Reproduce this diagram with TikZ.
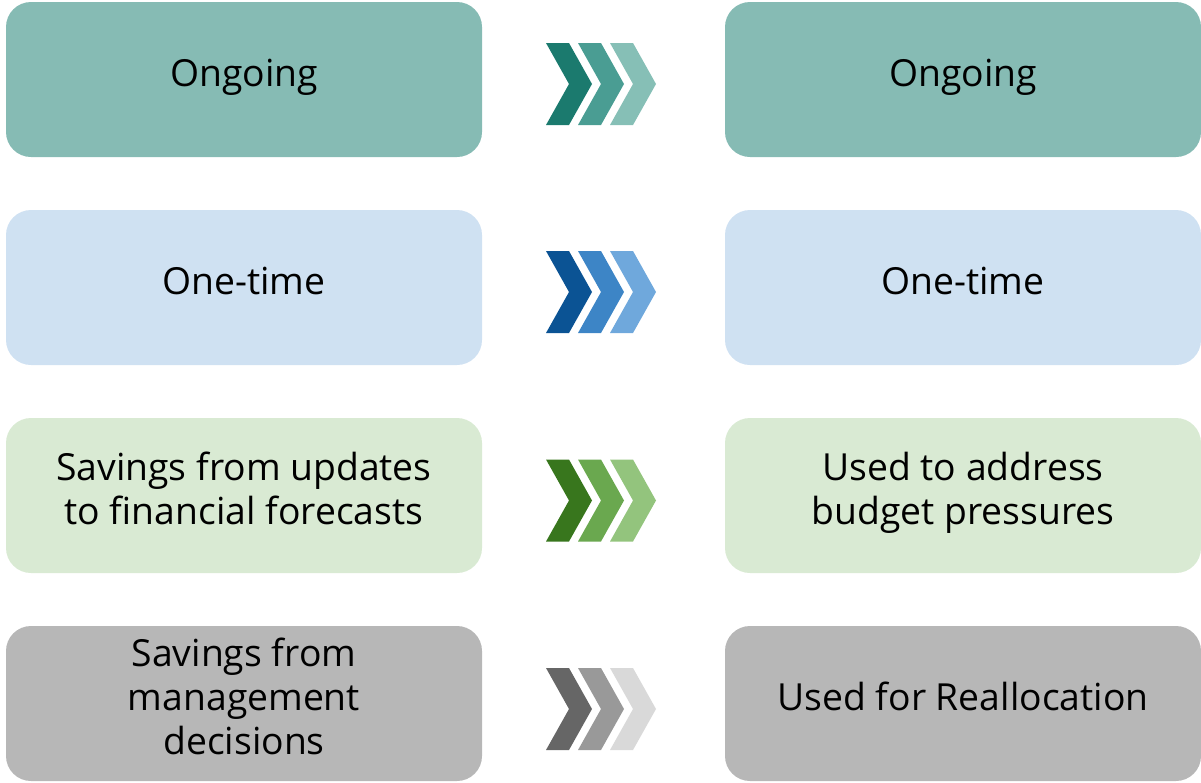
\documentclass[tikz,border=0pt]{standalone}
\usepackage{fontspec}
\setmainfont{Open Sans}
\definecolor{tealbox}{HTML}{86BBB4}
\definecolor{tealA}{HTML}{1B7A6E}
\definecolor{tealB}{HTML}{4A9D93}
\definecolor{tealC}{HTML}{86BFB6}
\definecolor{bluebox}{HTML}{CFE1F2}
\definecolor{blueA}{HTML}{0B5394}
\definecolor{blueB}{HTML}{3D85C6}
\definecolor{blueC}{HTML}{6FA8DC}
\definecolor{greenbox}{HTML}{D9EAD3}
\definecolor{greenA}{HTML}{38761D}
\definecolor{greenB}{HTML}{6AA84F}
\definecolor{greenC}{HTML}{93C47D}
\definecolor{greybox}{HTML}{B7B7B7}
\definecolor{greyA}{HTML}{666666}
\definecolor{greyB}{HTML}{999999}
\definecolor{greyC}{HTML}{D9D9D9}
\newcommand{\cardtext}[1]{\raisebox{2pt}[\height][\depth]{\begin{tabular}{@{}c@{}}#1\end{tabular}}}
\tikzset{
  card/.style={rounded corners=25pt, minimum width=476pt, minimum height=155pt,
    inner sep=0pt, align=center,
    font=\fontsize{37.3}{44}\selectfont},
  chev/.pic={
    \fill[#1] (0,-41) -- (23,-41) -- (46,0) -- (23,41) -- (0,41) -- (23,0) -- cycle;
  }
}
\begin{document}
\begin{tikzpicture}[x=1pt,y=-1pt]
\useasboundingbox (0,0) rectangle (1201,782);
% rows
\node[card, fill=tealbox] (l1) at (244,79.5) {\cardtext{Ongoing}};
\node[card, fill=tealbox] (r1) at (963,79.5) {\cardtext{Ongoing}};
\node[card, fill=bluebox] (l2) at (244,287.5) {\cardtext{One-time}};
\node[card, fill=bluebox] (r2) at (963,287.5) {\cardtext{One-time}};
\node[card, fill=greenbox] (l3) at (244,495.5) {\cardtext{Savings from updates\\to financial forecasts}};
\node[card, fill=greenbox] (r3) at (963,495.5) {\cardtext{Used to address\\budget pressures}};
\node[card, fill=greybox] (l4) at (244,703.5) {\cardtext{Savings from\\management\\decisions}};
\node[card, fill=greybox] (r4) at (963,703.5) {\cardtext{Used for Reallocation}};
% chevrons
\foreach \y/\a/\b/\c in {84/tealA/tealB/tealC, 292/blueA/blueB/blueC, 500.5/greenA/greenB/greenC, 709/greyA/greyB/greyC}{
  \pic at (546,\y) {chev=\a};
  \pic at (578,\y) {chev=\b};
  \pic at (610,\y) {chev=\c};
}
\end{tikzpicture}
\end{document}
